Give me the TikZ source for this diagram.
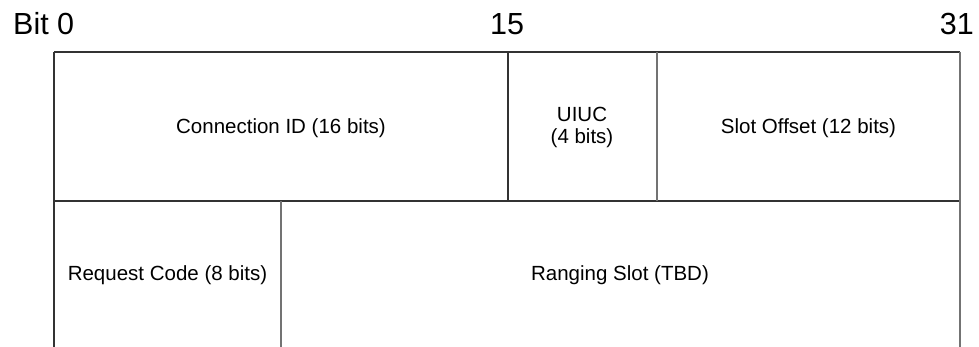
\documentclass[tikz,border=0pt]{standalone}
\usepackage{fontspec}
\setmainfont{Liberation Sans}
\begin{document}
\begin{tikzpicture}[x=1pt,y=-1pt,
  darkline/.style={draw=black!80, line width=1.3pt},
  grayline/.style={draw=black!55, line width=1.3pt},
  bitlabel/.style={inner sep=0pt, anchor=base, font=\fontsize{30.5}{34}\selectfont},
  fieldtext/.style={inner sep=0pt, anchor=base, font=\fontsize{20.5}{22}\selectfont, align=center}]
\useasboundingbox (0,0) rectangle (979,347);
% bit labels
\node[bitlabel, anchor=base west] (b0) at (13,35) {Bit 0};
\node[bitlabel] (b15) at (507,35) {15};
\node[bitlabel, anchor=base east] (b31) at (974,35) {31};
% frame lines
\draw[darkline] (54,52) -- (960,52);
\draw[darkline] (54,201) -- (960,201);
\draw[darkline] (54,52) -- (54,347);
\draw[grayline] (960,52) -- (960,347);
\draw[darkline] (508,52) -- (508,201);
\draw[grayline] (657,52) -- (657,201);
\draw[grayline] (281,201) -- (281,347);
% field texts
\node[fieldtext] (conn) at (281,134) {Connection ID (16 bits)};
\node[fieldtext] (uiuc) at (582,122) {UIUC};
\node[fieldtext] (uiucb) at (582,144) {(4 bits)};
\node[fieldtext] (slot) at (808.5,134) {Slot Offset (12 bits)};
\node[fieldtext] (req) at (167.5,280) {Request Code (8 bits)};
\node[fieldtext] (rang) at (620,280) {Ranging Slot (TBD)};
\end{tikzpicture}
\end{document}
